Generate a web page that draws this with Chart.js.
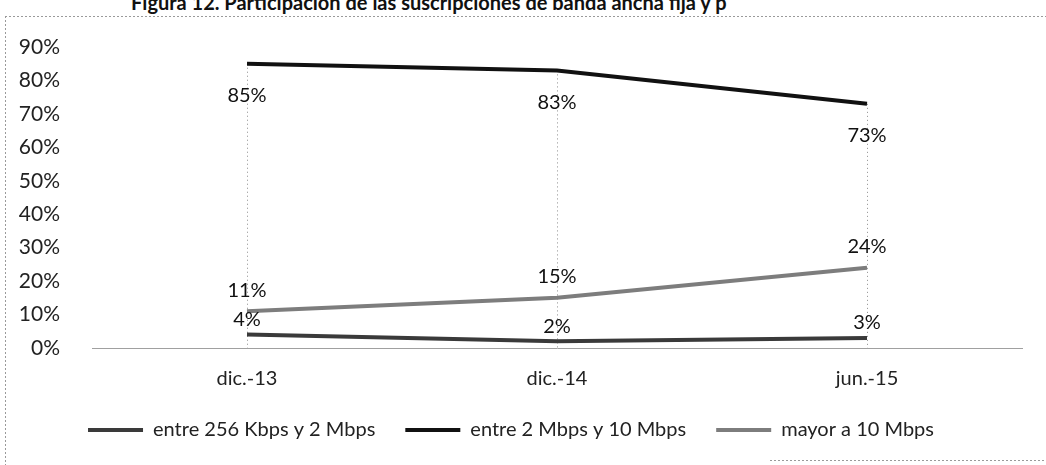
<!DOCTYPE html>
<html>
<head>
<meta charset="utf-8">
<script src="https://cdn.jsdelivr.net/npm/chart.js@4/dist/chart.umd.min.js"></script>
<style>
  body { margin: 0; background: #fff; }
  #wrap { position: relative; width: 1046px; height: 465px; overflow: hidden; }
  #title { position: absolute; left: 131px; top: -10px; font: bold 20px Lato, sans-serif; color: #111; white-space: nowrap; }
  canvas { position: absolute; left: 0; top: 0; }
</style>
</head>
<body>
<div id="wrap">
  <div id="title">Figura 12. Participación de las suscripciones de banda ancha fija y p</div>
  <canvas id="chart" width="1046" height="465"></canvas>
</div>
<script>
var periodos = ['dic.-13', 'dic.-14', 'jun.-15'];
var bajo = [4, 2, 3];          // entre 256 Kbps y 2 Mbps
var medio = [85, 83, 73];      // entre 2 Mbps y 10 Mbps
var alto = [11, 15, 24];       // mayor a 10 Mbps
var yTicks = [0, 10, 20, 30, 40, 50, 60, 70, 80, 90];

// offsets of the value labels (px, relative to the point)
var labelOffset = { 0: -15, 1: 32, 2: -21 };

// frame, drop lines and value labels
var extras = {
  id: 'extras',
  beforeDatasetsDraw: function(chart) {
    var ctx = chart.ctx;
    var y = chart.scales.y;
    ctx.save();
    // dotted frame
    ctx.strokeStyle = '#9a9a9a';
    ctx.lineWidth = 1;
    ctx.setLineDash([2, 2]);
    ctx.beginPath();
    ctx.moveTo(5, 16.5); ctx.lineTo(1046, 16.5);
    ctx.moveTo(5.5, 16); ctx.lineTo(5.5, 465);
    ctx.moveTo(770, 460.5); ctx.lineTo(1046, 460.5);
    ctx.stroke();
    // drop lines from the highest point
    ctx.strokeStyle = '#8c8c8c';
    ctx.setLineDash([1, 3]);
    var top = chart.getDatasetMeta(1).data;
    ctx.beginPath();
    top.forEach(function(p) {
      ctx.moveTo(Math.round(p.x) + 0.5, p.y);
      ctx.lineTo(Math.round(p.x) + 0.5, y.getPixelForValue(0));
    });
    ctx.stroke();
    ctx.restore();
  },
  afterDatasetsDraw: function(chart) {
    var ctx = chart.ctx;
    ctx.save();
    ctx.font = '20px Lato, sans-serif';
    ctx.fillStyle = '#111';
    ctx.textAlign = 'center';
    ctx.textBaseline = 'middle';
    chart.data.datasets.forEach(function(ds, i) {
      chart.getDatasetMeta(i).data.forEach(function(p, j) {
        ctx.fillText(ds.data[j] + '%', p.x, p.y + labelOffset[i]);
      });
    });
    ctx.restore();
  }
};

new Chart(document.getElementById('chart'), {
  type: 'line',
  data: {
    labels: periodos,
    datasets: [
      { label: 'entre 256 Kbps y 2 Mbps', data: bajo, borderColor: '#3a3a3a', backgroundColor: '#3a3a3a', borderWidth: 4 },
      { label: 'entre 2 Mbps y 10 Mbps', data: medio, borderColor: '#111111', backgroundColor: '#111111', borderWidth: 4 },
      { label: 'mayor a 10 Mbps', data: alto, borderColor: '#7d7d7d', backgroundColor: '#7d7d7d', borderWidth: 4 }
    ]
  },
  options: {
    responsive: false,
    animation: false,
    elements: { point: { radius: 0 }, line: { tension: 0, borderCapStyle: 'butt' } },
    layout: { padding: { top: 47, right: 24, bottom: 15, left: 0 } },
    scales: {
      x: {
        offset: true,
        grid: { display: false },
        border: { color: '#a0a0a0', dash: [2, 3], width: 1 },
        ticks: { color: '#222', font: { family: 'Lato', size: 20 }, padding: 11 },
        afterFit: function(s) { s.height = 42; }
      },
      y: {
        min: 0, max: 90,
        afterBuildTicks: function(s) { s.ticks = yTicks.map(function(v) { return { value: v }; }); },
        grid: { display: false },
        border: { display: false },
        ticks: { color: '#222', font: { family: 'Lato', size: 21 }, padding: 24,
                 callback: function(v) { return v + '%'; } },
        afterFit: function(s) { s.width = 92; }
      }
    },
    plugins: {
      tooltip: { enabled: false },
      legend: {
        position: 'bottom',
        labels: {
          color: '#222',
          font: { family: 'Lato', size: 20 },
          boxWidth: 55,
          boxHeight: 4,
          padding: 30,
          generateLabels: function(chart) {
            var items = Chart.defaults.plugins.legend.labels.generateLabels(chart);
            items.forEach(function(it) { it.lineWidth = 0; });
            return items;
          }
        }
      }
    }
  },
  plugins: [extras]
});
</script>
</body>
</html>
